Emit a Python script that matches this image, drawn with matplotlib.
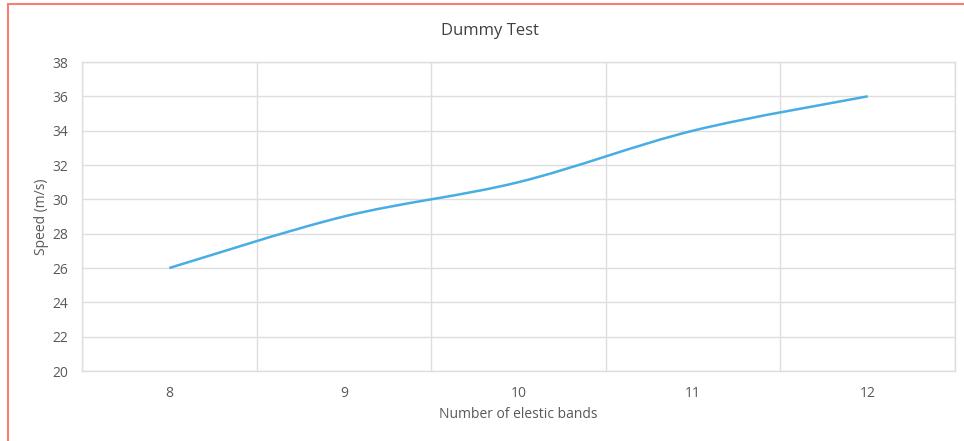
import matplotlib
matplotlib.use("Agg")
import matplotlib.pyplot as plt
import numpy as np
from matplotlib.path import Path
from matplotlib.patches import PathPatch, Rectangle

bands = [8, 9, 10, 11, 12]
speed = [26, 29, 31, 34, 36]
y_ticks = [20, 22, 24, 26, 28, 30, 32, 34, 36, 38]

GRID = "#dedede"
TEXT = "#595959"
LINE = "#47ade4"

plt.rcParams["font.family"] = ["Open Sans", "DejaVu Sans"]


def smooth_path(xs, ys):
    # Excel-style smoothed line: cubic Bezier segments, Catmull-Rom control points
    pts = np.column_stack([xs, ys]).astype(float)
    n = len(pts)
    verts = [pts[0]]
    codes = [Path.MOVETO]
    for i in range(n - 1):
        p0 = pts[max(i - 1, 0)]
        p1 = pts[i]
        p2 = pts[i + 1]
        p3 = pts[min(i + 2, n - 1)]
        verts += [p1 + (p2 - p0) / 6, p2 - (p3 - p1) / 6, p2]
        codes += [Path.CURVE4] * 3
    return Path(verts, codes)


fig = plt.figure(figsize=(9.64, 4.41), dpi=100)
ax = fig.add_axes([82 / 964, 1 - 371 / 441, (955 - 82) / 964, (371 - 62) / 441])

ax.add_patch(PathPatch(smooth_path(bands, speed), fill=False, edgecolor=LINE,
                       linewidth=1.8, capstyle="butt", zorder=3))

ax.set_xlim(7.5, 12.5)
ax.set_ylim(20, 38)
ax.set_xticks(bands)
ax.set_xticklabels([str(b) for b in bands])
ax.set_xticks(np.arange(7.5, 13, 1.0), minor=True)
ax.set_yticks(y_ticks)
ax.grid(True, which="minor", axis="x", color=GRID, linewidth=1.0)
ax.grid(True, which="major", axis="y", color=GRID, linewidth=1.0)
ax.set_axisbelow(True)
for side in ["top", "right", "bottom", "left"]:
    ax.spines[side].set_color(GRID)
    ax.spines[side].set_linewidth(1.0)
ax.tick_params(which="both", length=0, colors=TEXT, labelsize=10)
ax.tick_params(axis="x", pad=11)
ax.tick_params(axis="y", pad=10)

ax.set_xlabel("Number of elestic bands", fontsize=10, color=TEXT, labelpad=4)
ax.set_ylabel("Speed (m/s)", fontsize=10, color=TEXT, labelpad=2)

fig.text(490 / 964, 1 - 31 / 441, "Dummy Test", fontsize=12, color="#404040",
         ha="center", va="center")

# reddish frame along the top and left edges of the image
fig.patches.append(Rectangle((8 / 964, -0.1), 1.2, 1 - 4 / 441 + 0.1, transform=fig.transFigure,
                             fill=False, edgecolor="#f5806e", linewidth=1.5))

fig.savefig("out.png", dpi=100)
